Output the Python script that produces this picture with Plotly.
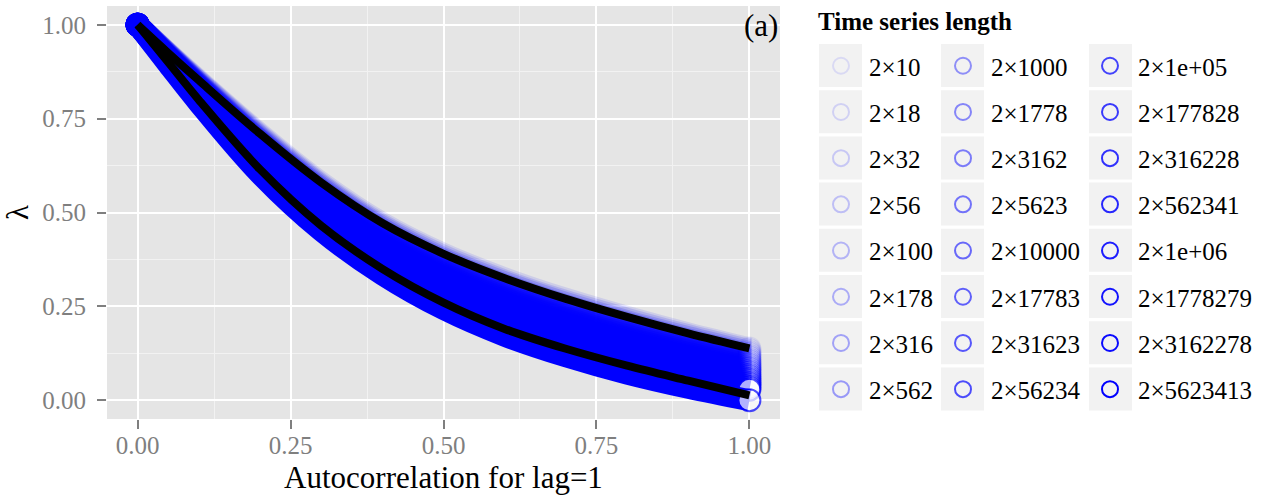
import plotly.graph_objects as go

# ---------------- data ----------------
RHO = [0.0, 0.05, 0.1, 0.2, 0.3, 0.4, 0.5, 0.6, 0.7, 0.8, 0.9, 1.0]

LABELS = ["2×10", "2×18", "2×32", "2×56", "2×100", "2×178", "2×316", "2×562",
          "2×1000", "2×1778", "2×3162", "2×5623", "2×10000", "2×17783", "2×31623", "2×56234",
          "2×1e+05", "2×177828", "2×316228", "2×562341", "2×1e+06", "2×1778279", "2×3162278", "2×5623413"]

lam_n10      = [1.000, 0.925, 0.852, 0.710, 0.580, 0.472, 0.390, 0.325, 0.270, 0.222, 0.178, 0.138]
lam_n18      = [1.000, 0.924, 0.850, 0.706, 0.575, 0.467, 0.385, 0.319, 0.264, 0.217, 0.173, 0.133]
lam_n32      = [1.000, 0.923, 0.848, 0.702, 0.571, 0.462, 0.379, 0.314, 0.259, 0.211, 0.168, 0.128]
lam_n56      = [1.000, 0.922, 0.845, 0.698, 0.566, 0.457, 0.374, 0.308, 0.253, 0.206, 0.162, 0.123]
lam_n100     = [1.000, 0.921, 0.843, 0.694, 0.561, 0.452, 0.369, 0.303, 0.248, 0.200, 0.157, 0.118]
lam_n178     = [1.000, 0.920, 0.841, 0.691, 0.557, 0.447, 0.363, 0.297, 0.242, 0.195, 0.152, 0.113]
lam_n316     = [1.000, 0.918, 0.839, 0.687, 0.552, 0.442, 0.358, 0.292, 0.237, 0.189, 0.147, 0.108]
lam_n562     = [1.000, 0.917, 0.837, 0.683, 0.547, 0.437, 0.353, 0.286, 0.231, 0.184, 0.141, 0.103]
lam_n1000    = [1.000, 0.916, 0.835, 0.679, 0.543, 0.432, 0.347, 0.281, 0.226, 0.178, 0.136, 0.098]
lam_n1778    = [1.000, 0.915, 0.832, 0.675, 0.538, 0.427, 0.342, 0.275, 0.220, 0.173, 0.131, 0.093]
lam_n3162    = [1.000, 0.914, 0.830, 0.671, 0.534, 0.422, 0.337, 0.270, 0.215, 0.167, 0.126, 0.088]
lam_n5623    = [1.000, 0.913, 0.828, 0.667, 0.529, 0.417, 0.331, 0.264, 0.209, 0.162, 0.120, 0.083]
lam_n10000   = [1.000, 0.912, 0.826, 0.663, 0.524, 0.412, 0.326, 0.258, 0.203, 0.156, 0.115, 0.078]
lam_n17783   = [1.000, 0.911, 0.824, 0.660, 0.520, 0.407, 0.321, 0.253, 0.198, 0.151, 0.110, 0.073]
lam_n31623   = [1.000, 0.910, 0.822, 0.656, 0.515, 0.403, 0.315, 0.247, 0.192, 0.145, 0.104, 0.068]
lam_n56234   = [1.000, 0.909, 0.819, 0.652, 0.510, 0.398, 0.310, 0.242, 0.187, 0.140, 0.099, 0.063]
lam_n1e5     = [1.000, 0.908, 0.817, 0.648, 0.506, 0.393, 0.305, 0.236, 0.181, 0.134, 0.094, 0.058]
lam_n177828  = [1.000, 0.907, 0.815, 0.644, 0.501, 0.388, 0.299, 0.231, 0.176, 0.129, 0.089, 0.053]
lam_n316228  = [1.000, 0.905, 0.813, 0.640, 0.497, 0.383, 0.294, 0.225, 0.170, 0.124, 0.083, 0.048]
lam_n562341  = [1.000, 0.904, 0.811, 0.636, 0.492, 0.378, 0.289, 0.220, 0.165, 0.118, 0.078, 0.043]
lam_n1e6     = [1.000, 0.903, 0.809, 0.632, 0.487, 0.373, 0.283, 0.214, 0.159, 0.113, 0.073, 0.038]
lam_n1778279 = [1.000, 0.902, 0.806, 0.629, 0.483, 0.368, 0.278, 0.209, 0.154, 0.107, 0.068, 0.033]
lam_n3162278 = [1.000, 0.901, 0.804, 0.625, 0.478, 0.363, 0.273, 0.203, 0.148, 0.102, 0.062, 0.028]
lam_n5623413 = [1.000, 0.895, 0.792, 0.603, 0.452, 0.335, 0.243, 0.172, 0.117, 0.071, 0.033, 0.000]

BLACK_UPPER = [1.000, 0.925, 0.852, 0.710, 0.580, 0.472, 0.390, 0.325, 0.270, 0.222, 0.178, 0.138]
BLACK_LOWER = [1.000, 0.900, 0.800, 0.615, 0.465, 0.350, 0.260, 0.190, 0.137, 0.092, 0.052, 0.013]

SERIES = [lam_n10, lam_n18, lam_n32, lam_n56, lam_n100, lam_n178, lam_n316, lam_n562,
          lam_n1000, lam_n1778, lam_n3162, lam_n5623, lam_n10000, lam_n17783, lam_n31623, lam_n56234,
          lam_n1e5, lam_n177828, lam_n316228, lam_n562341, lam_n1e6, lam_n1778279, lam_n3162278, lam_n5623413]

TICK_VALS = [0.0, 0.25, 0.5, 0.75, 1.0]
TICK_TEXT = ["0.00", "0.25", "0.50", "0.75", "1.00"]
MINOR_VALS = [0.125, 0.375, 0.625, 0.875]

# ---------------- style ----------------
SERIF = "Liberation Serif, Times New Roman, serif"
W, H = 1265, 495
ML, MR, MT, MB = 107, 485, 6, 76
PW, PH = W - ML - MR, H - MT - MB


def px2x(px):
    return (px - ML) / PW


def py2y(py):
    return (H - MB - py) / PH


n_series = len(SERIES)
alphas = [0.1 + 0.9 * i / (n_series - 1) for i in range(n_series)]

fig = go.Figure()

for i, vals in enumerate(SERIES):
    a = alphas[i]
    col = f"rgba(0,0,255,{a:.3f})"
    npt = len(RHO)
    sizes = [22] + [0] * (npt - 2) + [22]
    fills = [col] * (npt - 1) + [f"rgba(255,255,255,{a:.3f})"]
    fig.add_trace(go.Scatter(
        x=RHO, y=vals, mode="lines+markers",
        line=dict(color=col, width=22, shape="spline"),
        marker=dict(size=sizes, color=fills, line=dict(color=col, width=2)),
        showlegend=False, hoverinfo="skip"))

for vals in (BLACK_UPPER, BLACK_LOWER):
    fig.add_trace(go.Scatter(x=RHO, y=vals, mode="lines",
                             line=dict(color="black", width=8, shape="spline"),
                             showlegend=False, hoverinfo="skip"))

legend_names = ["legend", "legend2", "legend3"]
for i, lab in enumerate(LABELS):
    a = alphas[i]
    fig.add_trace(go.Scatter(
        x=[None], y=[None], mode="markers", name=lab,
        legend=legend_names[i // 8], legendgroup=lab,
        marker=dict(symbol="circle-open", size=16, color=f"rgba(0,0,255,{a:.3f})",
                    line=dict(width=2))))

# key background boxes
shapes = []
col_box_left = [819, 941, 1089]
for c in range(3):
    for r in range(8):
        top = 44 + 46.2 * r
        shapes.append(dict(type="rect", xref="paper", yref="paper", layer="above",
                           x0=px2x(col_box_left[c]), x1=px2x(col_box_left[c] + 43),
                           y0=py2y(top + 43), y1=py2y(top),
                           fillcolor="#F2F2F2", line=dict(width=0)))

leg_common = dict(font=dict(family=SERIF, size=25, color="black"), bgcolor="rgba(0,0,0,0)",
                  itemwidth=46, tracegroupgap=10.7, traceorder="grouped",
                  xanchor="left", yanchor="top", borderwidth=0)

axis_common = dict(ticks="outside", ticklen=9, tickwidth=2, tickcolor="#7F7F7F",
                   ticklabelposition="outside",
                   tickfont=dict(family=SERIF, size=25, color="#7F7F7F"),
                   showgrid=True, gridcolor="white", gridwidth=2, zeroline=False,
                   showline=False, automargin=False, tickvals=TICK_VALS, ticktext=TICK_TEXT,
                   minor=dict(tickvals=MINOR_VALS, showgrid=True,
                              gridcolor="#F2F2F2", gridwidth=1, ticks=""))

fig.update_layout(
    template="none",
    width=W, height=H, margin=dict(l=ML, r=MR, t=MT, b=MB, autoexpand=False),
    paper_bgcolor="white", plot_bgcolor="#E5E5E5",
    xaxis=dict(range=[-0.05, 1.05], **axis_common, ticklabelstandoff=-5,
               title=dict(text="Autocorrelation for lag=1",
                          font=dict(family=SERIF, size=31, color="black"), standoff=14)),
    yaxis=dict(range=[-0.05, 1.05], **axis_common, ticklabelstandoff=6,
               title=dict(text="λ", font=dict(family=SERIF, size=31, color="black"), standoff=8)),
    legend=dict(**leg_common, x=px2x(813), y=py2y(43)),
    legend2=dict(**leg_common, x=px2x(935), y=py2y(43)),
    legend3=dict(**leg_common, x=px2x(1082), y=py2y(43)),
    shapes=shapes,
    annotations=[
        dict(text="(a)", xref="paper", yref="paper", x=1.0, y=py2y(26),
             xanchor="right", yanchor="middle", showarrow=False,
             font=dict(family=SERIF, size=31, color="black")),
        dict(text="<b>Time series length</b>", xref="paper", yref="paper",
             x=px2x(816), y=py2y(22), xanchor="left", yanchor="middle", showarrow=False,
             font=dict(family=SERIF, size=25, color="black")),
    ],
)

fig.write_html("out.html", config={"displayModeBar": False},
               post_script="document.body.style.margin='0px';document.body.style.overflow='hidden';")
